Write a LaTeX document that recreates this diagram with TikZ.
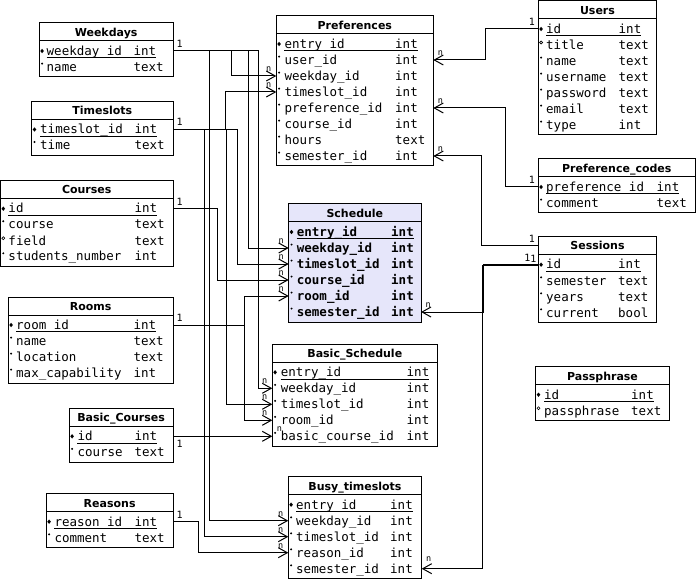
\documentclass[tikz,border=0pt]{standalone}
\usepackage{fontspec}
\setmainfont{DejaVu Sans}
\newfontfamily\ermono{DejaVu Sans Mono}
\usetikzlibrary{arrows.meta}

\definecolor{schedfill}{RGB}{230,230,250}

% 表格的外框和标题
% 参数: [填充], 名字, 左, 右, 上, 行数, 标题, 字段名的x, 类型的x
\newcommand{\ertable}[9][]{%
  \def\erL{#3}\def\erR{#4}\def\erT{#5}\def\erN{#8}\def\erC{#9}%
  \draw[er box,#1] (#3,#5) rectangle (#4,{#5+22+16*#6});
  \draw[er box] (#3,#5+18) -- (#4,#5+18);
  \node[title text] (#2) at ({(#3+#4)/2},#5+13.3) {#7};
}

% 表格的一行: 名字, 第几行, 标记(pk/nn/nl), 字段, 类型
\newcommand{\errow}[5]{%
  \pgfmathsetmacro\erY{\erT+12+16*#2}%
  \coordinate (#1-w) at (\erL,\erY);
  \coordinate (#1-e) at (\erR,\erY);
  \node[row text] (#1-name) at (\erN,\erY+4.3) {#4};
  \node[row text] (#1-type) at (\erC,\erY+4.3) {#5};
  \csname er#3\endcsname{#1}%
}

% 主键: 菱形加下划线
\newcommand{\erpk}[1]{%
  \fill (\erL+1,\erY) -- (\erL+2.8,\erY-2.2) -- (\erL+4.6,\erY) -- (\erL+2.8,\erY+2.2) -- cycle;
  \draw[er line] ([yshift=-2.4pt]#1-name.base west) -- ([yshift=-2.4pt]#1-type.base east);
}
% 非空: 小点
\newcommand{\ernn}[1]{\fill (\erL+2.8,\erY-3.4) circle[radius=1.1pt];}
% 可空: 小圆圈
\newcommand{\ernl}[1]{\draw[line width=.6pt] (\erL+2.8,\erY-2.5) circle[radius=1.5pt];}

\begin{document}
\begin{tikzpicture}[x=1pt,y=-1pt,
  % 线条的style
  er line/.style={line width=1pt},
  er box/.style={er line,draw=black},
  ref line/.style={er line,-{Straight Barb[length=9pt,width=10pt]}},
  % 文字的style
  row text/.style={anchor=base west,inner sep=0pt,font=\ermono\fontsize{12.5}{14}\selectfont},
  title text/.style={anchor=base,inner sep=0pt,font=\fontsize{11}{13}\selectfont\bfseries},
  card/.style={inner sep=0pt,font=\ermono\fontsize{10}{11}\selectfont},
  one right/.style={card,anchor=base west,xshift=3pt,yshift=3.5pt},
  one below/.style={card,anchor=base west,xshift=3pt,yshift=-11pt},
  one left/.style={card,anchor=base east,xshift=-3pt,yshift=3pt},
  n left/.style={card,font=\ermono\fontsize{8.5}{9}\selectfont,anchor=base east,xshift=-4.5pt,yshift=4.5pt},
  n right/.style={card,font=\ermono\fontsize{8.5}{9}\selectfont,anchor=base west,xshift=4pt,yshift=4.5pt}]

  \useasboundingbox (0,0) rectangle (696,580);

  % 左边的表
  \ertable{wd}{39.3}{173}{23}{2}{Weekdays}{46.5}{133.3}
  \errow{wd-id}{1}{pk}{weekday\_id}{int}
  \errow{wd-name}{2}{nn}{name}{text}

  \ertable{ts}{31.7}{173}{101.5}{2}{Timeslots}{40}{134.3}
  \errow{ts-id}{1}{pk}{timeslot\_id}{int}
  \errow{ts-time}{2}{nn}{time}{text}

  \ertable{co}{0.5}{173}{180.7}{4}{Courses}{8.3}{134.3}
  \errow{co-id}{1}{pk}{id}{int}
  \errow{co-course}{2}{nn}{course}{text}
  \errow{co-field}{3}{nl}{field}{text}
  \errow{co-num}{4}{nn}{students\_number}{int}

  \ertable{ro}{8.3}{173}{297}{4}{Rooms}{16}{133.3}
  \errow{ro-id}{1}{pk}{room\_id}{int}
  \errow{ro-name}{2}{nn}{name}{text}
  \errow{ro-loc}{3}{nn}{location}{text}
  \errow{ro-max}{4}{nn}{max\_capability}{int}

  \ertable{bc}{69.3}{173}{408.3}{2}{Basic\_Courses}{77.3}{134.3}
  \errow{bc-id}{1}{pk}{id}{int}
  \errow{bc-course}{2}{nn}{course}{text}

  \ertable{re}{46.3}{173}{493.7}{2}{Reasons}{54.3}{134.3}
  \errow{re-id}{1}{pk}{reason\_id}{int}
  \errow{re-comment}{2}{nn}{comment}{text}

  % 中间的表
  \ertable{pref}{276.3}{433.3}{16}{8}{Preferences}{284.3}{395}
  \errow{pref-entry}{1}{pk}{entry\_id}{int}
  \errow{pref-user}{2}{nn}{user\_id}{int}
  \errow{pref-weekday}{3}{nn}{weekday\_id}{int}
  \errow{pref-timeslot}{4}{nn}{timeslot\_id}{int}
  \errow{pref-preference}{5}{nn}{preference\_id}{int}
  \errow{pref-course}{6}{nn}{course\_id}{int}
  \errow{pref-hours}{7}{nn}{hours}{text}
  \errow{pref-semester}{8}{nn}{semester\_id}{int}

  \begin{scope}[row text/.append style={font=\ermono\bfseries\fontsize{12.5}{14}\selectfont}]
    \ertable[fill=schedfill]{sch}{288.7}{421}{204}{6}{Schedule}{296.7}{391}
    \errow{sch-entry}{1}{pk}{entry\_id}{int}
    \errow{sch-weekday}{2}{nn}{weekday\_id}{int}
    \errow{sch-timeslot}{3}{nn}{timeslot\_id}{int}
    \errow{sch-course}{4}{nn}{course\_id}{int}
    \errow{sch-room}{5}{nn}{room\_id}{int}
    \errow{sch-semester}{6}{nn}{semester\_id}{int}
  \end{scope}

  \ertable{bs}{272.3}{437.3}{344.3}{5}{Basic\_Schedule}{280.7}{406.5}
  \errow{bs-entry}{1}{pk}{entry\_id}{int}
  \errow{bs-weekday}{2}{nn}{weekday\_id}{int}
  \errow{bs-timeslot}{3}{nn}{timeslot\_id}{int}
  \errow{bs-room}{4}{nn}{room\_id}{int}
  \errow{bs-basic}{5}{nn}{basic\_course\_id}{int}

  \ertable{bt}{288.3}{421.7}{476.7}{5}{Busy\_timeslots}{296}{390}
  \errow{bt-entry}{1}{pk}{entry\_id}{int}
  \errow{bt-weekday}{2}{nn}{weekday\_id}{int}
  \errow{bt-timeslot}{3}{nn}{timeslot\_id}{int}
  \errow{bt-reason}{4}{nn}{reason\_id}{int}
  \errow{bt-semester}{5}{nn}{semester\_id}{int}

  % 右边的表
  \ertable{us}{538.3}{656.7}{1}{7}{Users}{546}{618.5}
  \errow{us-id}{1}{pk}{id}{int}
  \errow{us-title}{2}{nl}{title}{text}
  \errow{us-name}{3}{nn}{name}{text}
  \errow{us-username}{4}{nn}{username}{text}
  \errow{us-password}{5}{nn}{password}{text}
  \errow{us-email}{6}{nn}{email}{text}
  \errow{us-type}{7}{nn}{type}{int}

  \ertable{pc}{538.3}{695.3}{159}{2}{Preference\_codes}{546}{656.5}
  \errow{pc-id}{1}{pk}{preference\_id}{int}
  \errow{pc-comment}{2}{nn}{comment}{text}

  \ertable{se}{538.3}{656.7}{236.7}{4}{Sessions}{546}{618}
  \coordinate (se-title-w) at (\erL,\erT+9);
  \errow{se-id}{1}{pk}{id}{int}
  \errow{se-semester}{2}{nn}{semester}{text}
  \errow{se-years}{3}{nn}{years}{text}
  \errow{se-current}{4}{nn}{current}{bool}

  \ertable{pp}{535.7}{669.3}{366.7}{2}{Passphrase}{544}{631}
  \errow{pp-id}{1}{pk}{id}{int}
  \errow{pp-phrase}{2}{nl}{passphrase}{text}

  % 左边的连线
  \draw[ref line] (wd-id-e) node[one right] (one-wd) {1} -- ++(58.7,0) |- (pref-weekday-w) node[n left] (n-pref-wd) {n};
  \draw[ref line] (wd-id-e) -- ++(75.3,0) |- (sch-weekday-w) node[n left] (n-sch-wd) {n};
  \draw[ref line] (wd-id-e) -- ++(85.3,0) |- (bs-weekday-w) node[n left] (n-bs-wd) {n};
  \draw[ref line] (wd-id-e) -- ++(36,0) |- (bt-weekday-w) node[n left] (n-bt-wd) {n};

  \draw[ref line] (ts-id-e) node[one right] (one-ts) {1} -- ++(52,0) |- (pref-timeslot-w) node[n left] (n-pref-ts) {n};
  \draw[ref line] (ts-id-e) -- ++(64.7,0) |- (sch-timeslot-w) node[n left] (n-sch-ts) {n};
  \draw[ref line] (ts-id-e) -- ++(53.7,0) |- (bs-timeslot-w) node[n left] (n-bs-ts) {n};
  \draw[ref line] (ts-id-e) -- ++(31.7,0) |- (bt-timeslot-w) node[n left] (n-bt-ts) {n};

  \draw[ref line] (co-id-e) node[one right] (one-co) {1} -- ++(44.7,0) |- (sch-course-w) node[n left] (n-sch-co) {n};

  \draw[ref line] (ro-id-e) node[one right] (one-ro) {1} -- ++(71,0) |- (sch-room-w) node[n left] (n-sch-ro) {n};
  \draw[ref line] (ro-id-e) -- ++(71,0) |- (bs-room-w) node[n left] (n-bs-ro) {n};

  \draw[ref line] (bc-id-e) node[one below] (one-bc) {1} -- (bs-basic-w) node[n right] (n-bs-bc) {n};

  \draw[ref line] (re-id-e) node[one right] (one-re) {1} -- ++(25.3,0) |- (bt-reason-w) node[n left] (n-bt-re) {n};

  % 右边的连线
  \draw[ref line] (us-id-w) node[one left] (one-us) {1} -- ++(-53.3,0) |- (pref-user-e) node[n right] (n-pref-us) {n};
  \draw[ref line] (pc-id-w) node[one left] (one-pc) {1} -- ++(-33.3,0) |- (pref-preference-e) node[n right] (n-pref-pc) {n};
  \draw[ref line] (se-title-w) node[one left] (one-se) {1} -- ++(-56.6,0) |- (pref-semester-e) node[n right] (n-pref-se) {n};
  \draw[ref line] ([yshift=.5pt]se-id-w) node[one left,xshift=-4.5pt] (one-se-a) {1} -- ++(-55,0) |- (sch-semester-e) node[n right] (n-sch-se) {n};
  \draw[ref line] ([yshift=-.5pt]se-id-w) node[one left,xshift=1.5pt] (one-se-b) {1} -- ++(-56,0) |- (bt-semester-e) node[n right,yshift=3pt] (n-bt-se) {n};

\end{tikzpicture}
\end{document}
